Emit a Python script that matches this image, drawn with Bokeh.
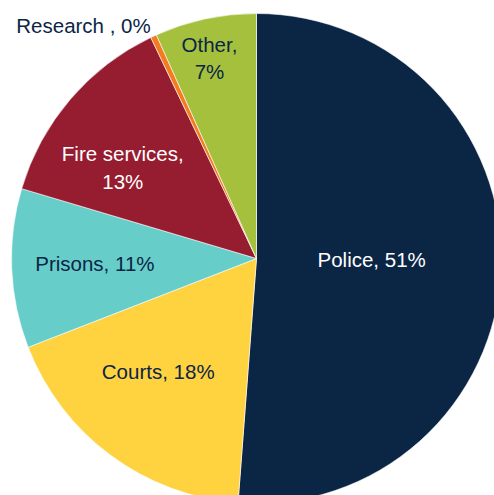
import math
from bokeh.plotting import figure
from bokeh.models import ColumnDataSource, Range1d
from bokeh.embed import file_html
from bokeh.resources import INLINE
from bokeh.core.properties import value

categories = ["Police", "Courts", "Prisons", "Fire services", "Research ", "Other"]
shares = [51.2, 17.9, 10.5, 13.3, 0.4, 6.7]
pct_labels = ["51%", "18%", "11%", "13%", "0%", "7%"]
colors = ["#0B2545", "#FFD23F", "#66CDC9", "#961C30", "#F47B20", "#A4C03D"]
label_colors = ["white", "#0B2545", "#0B2545", "white", "#0B2545", "#0B2545"]

W, H = 494, 495
cx, cy, R = 256, H - 258, 245

total = sum(shares)
starts, ends, mids = [], [], []
cum = 0.0
for s in shares:
    a0 = math.pi / 2 - 2 * math.pi * cum / total
    cum += s
    a1 = math.pi / 2 - 2 * math.pi * cum / total
    starts.append(a0)
    ends.append(a1)
    mids.append((a0 + a1) / 2)

src = ColumnDataSource(dict(start=starts, end=ends, color=colors))

p = figure(width=W, height=H, x_range=Range1d(0, W), y_range=Range1d(0, H),
           output_backend="svg", toolbar_location=None, min_border=0)
p.axis.visible = False
p.grid.visible = False
p.outline_line_color = None
p.background_fill_color = "white"

p.wedge(x=cx, y=cy, radius=R, start_angle="start", end_angle="end",
        direction="clock", fill_color="color", line_color="white",
        line_width=0.6, source=src)

# label placement (layout only): radius fraction and angle tweak per slice
rfrac = [0.47, 0.61, 0.66, 0.66, None, 0.84]
atweak = [0.03, -0.08, -0.01, 0.11, 0, 0.02]
texts, lx, ly, lc = [], [], [], []
for i, c in enumerate(categories):
    if rfrac[i] is None:
        continue
    a = mids[i] + atweak[i]
    lx.append(cx + R * rfrac[i] * math.cos(a))
    ly.append(cy + R * rfrac[i] * math.sin(a))
    if c in ("Fire services", "Other"):
        texts.append(f"{c},\n{pct_labels[i]}")
    else:
        texts.append(f"{c}, {pct_labels[i]}")
    lc.append(label_colors[i])

lsrc = ColumnDataSource(dict(x=lx, y=ly, t=texts, c=lc))
p.text(x="x", y="y", text="t", text_color="c", source=lsrc,
       text_font=value("Liberation Sans"), text_font_size="20.5px",
       text_align="center", text_baseline="middle", text_line_height=1.2)

# Research label sits outside the pie
ri = categories.index("Research ")
p.text(x=[83], y=[H - 25], text=[f"{categories[ri]}, {pct_labels[ri]}"],
       text_color=label_colors[ri], text_font=value("Liberation Sans"),
       text_font_size="20.5px", text_align="center", text_baseline="middle")

open("out.html", "w").write(file_html(p, INLINE))
